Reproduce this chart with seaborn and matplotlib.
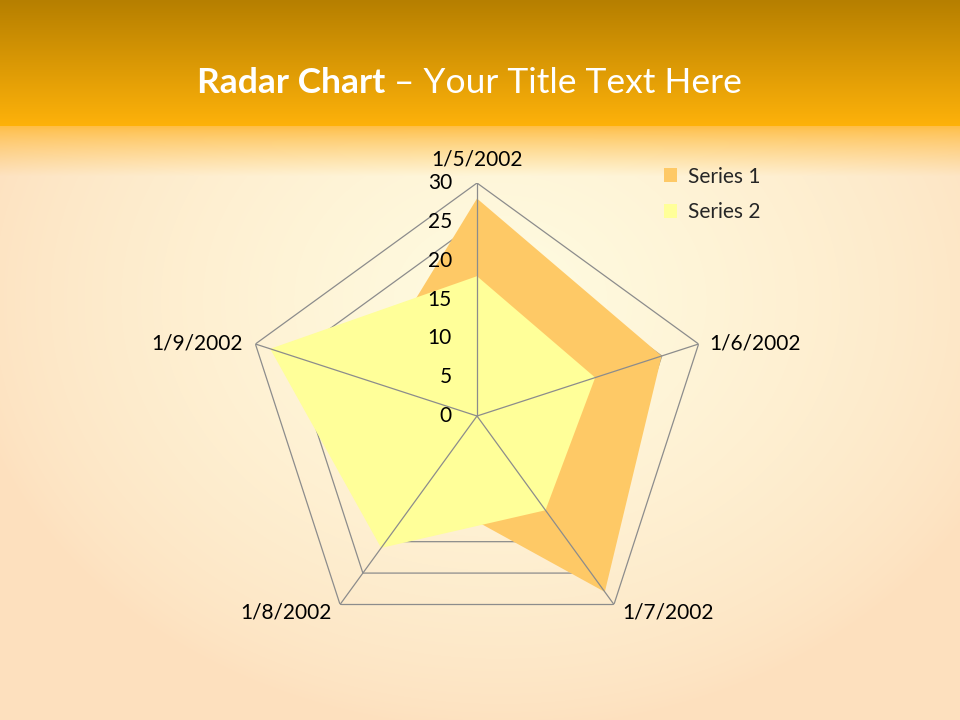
import matplotlib
matplotlib.use("Agg")
import matplotlib.pyplot as plt
import seaborn as sns
import numpy as np

# chart data
categories = ["1/5/2002", "1/6/2002", "1/7/2002", "1/8/2002", "1/9/2002"]
series_names = ["Series 1", "Series 2"]
series_1 = [28, 25, 28, 12, 15]
series_2 = [18, 16, 15, 21, 28]
r_ticks = [0, 5, 10, 15, 20, 25, 30]

sns.set_theme(style="white")
plt.rcParams['font.family'] = ['Lato', 'DejaVu Sans']

fig = plt.figure(figsize=(9.6, 7.2), dpi=100)

# background: gold header band + light peach slide with a glow
h, w = 720, 960
yy, xx = np.mgrid[0:h, 0:w]
peach = np.array([253, 224, 190]) / 255
glow = np.array([255, 252, 225]) / 255
d = np.sqrt(((xx - 500) / 540.0) ** 2 + ((yy - 300) / 430.0) ** 2)
t = np.clip(1 - d, 0, 1)[..., None] ** 0.7
img = peach * (1 - t) + glow * t
# soft orange fade below the header
fade = np.clip((yy - 126) / 50.0, 0, 1)[..., None] ** 0.8
band_col = np.array([255, 190, 70]) / 255
img = np.where(yy[..., None] >= 126, band_col * (1 - fade) + img * fade, img)
# header gradient
top = np.array([182, 127, 0]) / 255
bot = np.array([254, 178, 10]) / 255
f = np.clip(yy / 126.0, 0, 1)[..., None]
hdr = top * (1 - f) + bot * f
img = np.where(yy[..., None] < 126, hdr, img)

bg = fig.add_axes([0, 0, 1, 1])
bg.imshow(img, aspect="auto", extent=[0, 1, 0, 1], origin="upper")
bg.set_axis_off()

# title, bold part then regular part
t1 = bg.text(197 / 960, 1 - 83 / 720, "Radar Chart", color="white", fontsize=25.5,
             fontweight="bold", ha="left", va="center", transform=bg.transAxes)
bg.annotate(" \u2013 Your Title Text Here", xy=(1, 0.5), xycoords=t1, color="white",
            fontsize=25.5, ha="left", va="center")

# radar axes
cx, cy, rad = 477 / 960, 1 - 416 / 720, 233
ax = fig.add_axes([cx - rad / 960, cy - rad / 720, 2 * rad / 960, 2 * rad / 720],
                  projection="polar")
ax.set_theta_zero_location("N")
ax.set_theta_direction(-1)
ax.set_ylim(0, 30)
ax.patch.set_alpha(0)
ax.spines["polar"].set_visible(False)
ax.grid(False)
ax.set_xticks([])
ax.set_yticks([])

angles = np.linspace(0, 2 * np.pi, len(categories), endpoint=False)
closed = np.concatenate([angles, angles[:1]])

grid_col = "#8c8c8c"
# pentagon rings (behind fills)
for v in r_ticks[1:]:
    ax.plot(closed, [v] * len(closed), color=grid_col, lw=0.9, zorder=1)

colors = ["#fec966", "#ffff99"]
for name, vals, c in zip(series_names, [series_1, series_2], colors):
    v = np.concatenate([vals, vals[:1]])
    ax.fill(closed, v, color=c, lw=0, zorder=2, label=name)

# spokes over fills
for a in angles:
    ax.plot([a, a], [0, 30], color=grid_col, lw=0.9, zorder=3)

# radial tick labels along the top spoke
for v in r_ticks:
    ax.annotate(str(v), xy=(0, v), xytext=(-18, 0), textcoords="offset points",
                ha="right", va="center", fontsize=15, color="black", zorder=4)

# category labels
offs = [(0, 10), (8, 0), (6, -6), (-6, -6), (-9, 0)]
aligns = [("center", "bottom"), ("left", "center"), ("left", "center"),
          ("right", "center"), ("right", "center")]
for a, lab, o, al in zip(angles, categories, offs, aligns):
    ax.annotate(lab, xy=(a, 30), xytext=o, textcoords="offset points",
                ha=al[0], va=al[1], fontsize=15, color="black")

leg = fig.legend(loc="upper left", bbox_to_anchor=(645 / 960, 1 - 148 / 720),
                 frameon=False, fontsize=15, handlelength=0.65, handleheight=0.65,
                 handletextpad=0.5, labelspacing=0.75)

plt.savefig("out.png", dpi=100)
plt.close()
